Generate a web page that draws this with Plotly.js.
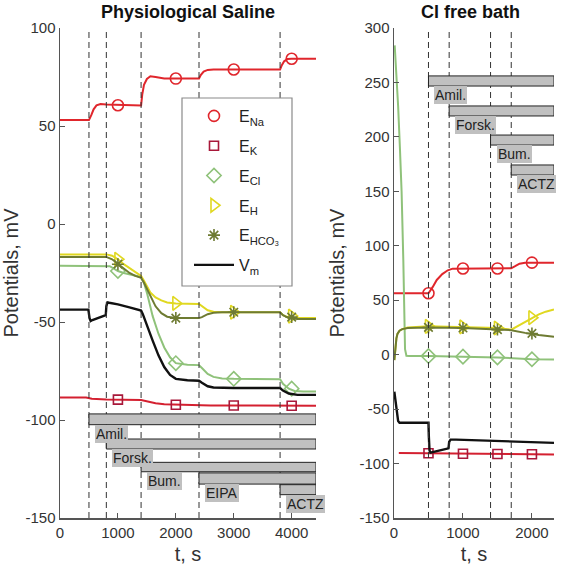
<!DOCTYPE html>
<html>
<head>
<meta charset="utf-8">
<script src="https://cdn.plot.ly/plotly-3.0.1.min.js"></script>
<style>html,body{margin:0;padding:0;background:#fff;}#chart{width:562px;height:565px;}</style>
</head>
<body>
<div id="chart"></div>
<script>
// ---------------- DATA: left panel (Physiological Saline) ----------------
const leftNaT = [0, 500, 540, 580, 630, 700, 800, 1400, 1420, 1450, 1500, 1560, 1650, 1800, 2400, 2430, 2480, 2550, 2650, 3800, 3830, 3870, 3930, 4000, 4420];
const leftNaV = [53, 53, 55.5, 58.5, 60.5, 61.2, 61, 60.5, 66, 71, 74, 75.4, 75, 74.2, 74.2, 76, 77.8, 78.6, 78.8, 78.8, 81, 83, 84.2, 84.3, 84.3];

const leftKT = [0, 450, 550, 700, 800, 1400, 1500, 1650, 1800, 2000, 2400, 2600, 4420];
const leftKV = [-88.5, -88.5, -89.2, -89.5, -89.6, -89.8, -90.5, -91.5, -92.0, -92.2, -92.3, -92.6, -92.7];

const leftClT = [0, 500, 860, 1000, 1100, 1400, 1450, 1500, 1550, 1600, 1700, 1800, 1900, 2000, 2200, 2400, 2450, 2550, 2650, 2800, 3000, 3800, 3850, 3950, 4050, 4200, 4420];
const leftClV = [-21.3, -21.3, -21.5, -24, -25, -27, -30, -35, -41, -47, -56, -63, -68, -71, -71.8, -72, -73.5, -76.5, -78, -78.8, -79, -79.2, -81.5, -84, -85.2, -85.5, -85.5];

const leftHT = [0, 800, 900, 1000, 1100, 1200, 1300, 1400, 1450, 1500, 1560, 1650, 1750, 1850, 2000, 2400, 2450, 2550, 2650, 2800, 3800, 3850, 3950, 4100, 4420];
const leftHV = [-15.5, -15.5, -16.2, -18, -20.5, -22.5, -24.5, -26.5, -29, -32, -35, -37.5, -39, -40, -40.5, -40.8, -42, -44, -44.8, -45, -45, -46.5, -47.8, -48, -48];

const leftHCO3T = [0, 800, 900, 1000, 1100, 1200, 1300, 1400, 1450, 1500, 1560, 1650, 1750, 1850, 2000, 2400, 2450, 2550, 2650, 2800, 3800, 3850, 3950, 4100, 4420];
const leftHCO3V = [-16.8, -16.8, -18, -20.5, -23, -25, -26.5, -27.5, -30, -33, -37, -42, -45.5, -47.3, -48, -48, -47.5, -46, -45.3, -45, -45, -46.5, -48, -48.5, -48.5];

const leftVmT = [0, 490, 510, 530, 560, 700, 790, 800, 820, 850, 1000, 1200, 1400, 1430, 1500, 1600, 1700, 1800, 1900, 2000, 2200, 2400, 2450, 2550, 2650, 2800, 3000, 3800, 3850, 3950, 4100, 4420];
const leftVmV = [-43.7, -43.7, -48, -49.5, -49, -47.5, -46.5, -42, -40, -40.2, -41, -42.5, -44.2, -46, -52, -59.5, -67, -73, -77, -79, -79.7, -80, -81, -82.8, -83.4, -83.6, -83.7, -83.7, -85, -86.5, -87.2, -87.2];

const leftMarkT = [1000, 2000, 3000, 4000];
const leftNaMk = [60.6, 74.2, 78.8, 84.3];
const leftKMk = [-89.6, -92.2, -92.6, -92.7];
const leftClMk = [-24, -71, -79, -84];
const leftHMk = [-18, -40.5, -45, -47];
const leftHCO3Mk = [-20.5, -48, -45, -47.5];

const leftDrugs = ['Amil.', 'Forsk.', 'Bum.', 'EIPA', 'ACTZ'];
const leftDrugStart = [500, 800, 1400, 2400, 3800];

// ---------------- DATA: right panel (Cl free bath) ----------------
const rightNaT = [0, 500, 560, 620, 700, 780, 850, 1000, 1500, 1700, 1750, 1820, 1900, 2000, 2320];
const rightNaV = [56.4, 56.4, 62, 68.6, 74, 77.5, 79, 79.1, 79.2, 79.3, 81, 83.5, 84.4, 84.5, 84.5];

const rightKT = [70, 500, 1000, 1500, 2000, 2320];
const rightKV = [-90.3, -90.6, -91, -91.2, -91.5, -91.6];

const rightClT = [10, 30, 60, 87, 110, 135, 150, 160, 180, 220, 500, 1000, 1500, 2000, 2320];
const rightClV = [284, 265, 228, 188, 150, 87, 30, 5, -1, -1.2, -1.3, -1.8, -2.5, -4.2, -4.5];

const rightHT = [5, 20, 35, 50, 80, 120, 200, 500, 1000, 1500, 1700, 1800, 1900, 2000, 2100, 2200, 2320];
const rightHV = [-5, 8, 15, 19, 22, 23.5, 25, 26, 25.5, 24.5, 23, 26.5, 30.5, 34, 37, 39.5, 41.5];

const rightHCO3T = [5, 20, 35, 50, 80, 120, 200, 500, 1000, 1500, 1700, 1900, 2100, 2320];
const rightHCO3V = [-5, 8, 15, 19, 22, 23.5, 24.5, 25, 24.5, 23, 22.5, 20, 18, 16.5];

const rightVmT = [5, 20, 35, 45, 60, 80, 500, 505, 515, 530, 560, 700, 790, 800, 820, 900, 1400, 1700, 2000, 2320];
const rightVmV = [-34, -42, -52, -57, -61, -62.5, -62.5, -75, -88, -90, -89.5, -87, -86, -80, -78, -78, -79, -79.8, -80.5, -81];

const rightMarkT = [500, 1000, 1500, 2000];
const rightNaMk = [56.4, 79.1, 79.2, 84.5];
const rightKMk = [-90.6, -91, -91.2, -91.5];
const rightClMk = [-1.3, -1.8, -2.5, -4.2];
const rightHMk = [26, 25.5, 24.5, 34];
const rightHCO3Mk = [25, 24.5, 23, 19.5];

const rightDrugs = ['Amil.', 'Forsk.', 'Bum.', 'ACTZ'];
const rightDrugStart = [500, 800, 1400, 1700];

// ---------------- STYLE / LAYOUT CONFIG ----------------
const FONT = "'Liberation Sans', Arial, sans-serif";
const W = 562, H = 565;
const M = {l: 60, r: 8, t: 28, b: 47};
const PW = W - M.l - M.r, PH = H - M.t - M.b;
const px2x = p => (p - M.l) / PW;
const px2y = p => (H - M.b - p) / PH;

const leftXMax = 4420, rightXMax = 2320;
// bar vertical extents (top, bottom) in data units, per drug
const leftBarY = [[-96.9, -102.4], [-109.7, -114.8], [-121.6, -126.4], [-127, -132.7], [-133, -138.1]];
const rightBarY = [[256, 246.7], [228.4, 219.2], [201.7, 192.5], [174.2, 165]];

const series = [
  {name: 'E<sub>Na</sub>', color: '#e0262c', mcolor: '#e0262c', symbol: 'circle-open', size: 11},
  {name: 'E<sub>K</sub>', color: '#d42030', mcolor: '#a8183a', symbol: 'square-open', size: 9},
  {name: 'E<sub>Cl</sub>', color: '#8fc27a', mcolor: '#8fc27a', symbol: 'diamond-open', size: 11},
  {name: 'E<sub>H</sub>', color: '#e0d820', mcolor: '#e0d820', symbol: 'triangle-right-open', size: 12},
  {name: 'E<sub>HCO₃</sub>', color: '#6e7b32', mcolor: '#6e7b32', symbol: 'asterisk-open', size: 10}
];
const leftData = [[leftNaT, leftNaV, leftNaMk], [leftKT, leftKV, leftKMk], [leftClT, leftClV, leftClMk], [leftHT, leftHV, leftHMk], [leftHCO3T, leftHCO3V, leftHCO3Mk]];
const rightData = [[rightNaT, rightNaV, rightNaMk], [rightKT, rightKV, rightKMk], [rightClT, rightClV, rightClMk], [rightHT, rightHV, rightHMk], [rightHCO3T, rightHCO3V, rightHCO3Mk]];

const traces = [];
function addPanel(data, markT, vmT, vmV, xa, ya, legend) {
  series.forEach((s, i) => {
    const [t, v, mk] = data[i];
    traces.push({x: t, y: v, xaxis: xa, yaxis: ya, type: 'scatter', mode: 'lines',
      line: {color: s.color, width: 2}, legendgroup: 'g' + i, showlegend: false, hoverinfo: 'skip'});
    traces.push({x: markT, y: mk, xaxis: xa, yaxis: ya, type: 'scatter', mode: 'markers', name: s.name,
      marker: {symbol: s.symbol, size: s.size, color: s.mcolor, line: {color: s.mcolor, width: 1.6}},
      legendgroup: 'g' + i, showlegend: legend});
  });
  traces.push({x: vmT, y: vmV, xaxis: xa, yaxis: ya, type: 'scatter', mode: 'lines', name: 'V<sub>m</sub>',
    line: {color: '#111111', width: 2.4}, legendgroup: 'g5', showlegend: legend});
}
addPanel(leftData, leftMarkT, leftVmT, leftVmV, 'x', 'y', true);
addPanel(rightData, rightMarkT, rightVmT, rightVmV, 'x2', 'y2', false);

const shapes = [];
const annotations = [];
function addDrugs(names, starts, barY, xref, yref, xmax) {
  starts.forEach(t => {
    shapes.push({type: 'line', xref: xref, yref: yref + ' domain', x0: t, x1: t, y0: 0, y1: 1,
      line: {color: '#333333', width: 1, dash: '6px,4px'}, layer: 'above'});
  });
  names.forEach((n, i) => {
    shapes.push({type: 'rect', xref: xref, yref: yref, x0: starts[i], x1: xmax, y0: barY[i][1], y1: barY[i][0],
      fillcolor: '#c0c0c0', line: {color: '#222222', width: 1}, layer: 'above'});
  });
  names.forEach((n, i) => {
    annotations.push({text: n, xref: xref, yref: yref, x: starts[i], y: barY[i][1], xanchor: 'left', yanchor: 'top',
      xshift: 6, showarrow: false, bgcolor: '#c0c0c0', borderpad: 1, borderwidth: 0,
      font: {family: FONT, size: 14, color: '#222222'}});
  });
}
addDrugs(leftDrugs, leftDrugStart, leftBarY, 'x', 'y', leftXMax);
addDrugs(rightDrugs, rightDrugStart, rightBarY, 'x2', 'y2', rightXMax);

// legend frame
shapes.push({type: 'rect', xref: 'paper', yref: 'paper', x0: px2x(182), x1: px2x(292), y0: px2y(286), y1: px2y(98),
  fillcolor: '#ffffff', line: {color: '#8a8a8a', width: 1.2}, layer: 'above'});

annotations.push({text: '<b>Physiological Saline</b>', xref: 'paper', yref: 'paper', x: px2x(188), y: px2y(12),
  xanchor: 'center', yanchor: 'middle', showarrow: false, font: {family: FONT, size: 18, color: '#111'}});
annotations.push({text: '<b>Cl free bath</b>', xref: 'paper', yref: 'paper', x: px2x(470), y: px2y(12),
  xanchor: 'center', yanchor: 'middle', showarrow: false, font: {family: FONT, size: 18, color: '#111'}});

const leftYTicks = [-150, -100, -50, 0, 50, 100];
const rightYTicks = [-150, -100, -50, 0, 50, 100, 150, 200, 250, 300];
const leftXTicks = [0, 1000, 2000, 3000, 4000];
const rightXTicks = [0, 1000, 2000];

const axBase = {showline: true, linecolor: '#555555', linewidth: 1.5, mirror: false, ticks: 'inside', ticklen: 5,
  tickcolor: '#555555', tickwidth: 1, showgrid: false, zeroline: false,
  tickfont: {family: FONT, size: 15, color: '#333333'}};
const titleFont = {family: FONT, size: 20, color: '#333333'};

const layout = {
  width: W, height: H, margin: M, paper_bgcolor: '#ffffff', plot_bgcolor: '#ffffff',
  font: {family: FONT},
  showlegend: true,
  legend: {x: px2x(189), y: px2y(99), xanchor: 'left', yanchor: 'top', bgcolor: 'rgba(0,0,0,0)',
    borderwidth: 0, font: {family: FONT, size: 16, color: '#222222'}, tracegroupgap: 6, itemwidth: 40},
  xaxis: Object.assign({}, axBase, {domain: [0, px2x(316)], range: [0, leftXMax], anchor: 'y',
    tickvals: leftXTicks, ticktext: leftXTicks.map(String), title: {text: 't, s', font: titleFont}}),
  yaxis: Object.assign({}, axBase, {domain: [0, 1], range: [-150, 100], anchor: 'x',
    tickvals: leftYTicks, ticktext: leftYTicks.map(String), title: {text: 'Potentials, mV', font: titleFont}}),
  xaxis2: Object.assign({}, axBase, {domain: [px2x(394), 1], range: [0, rightXMax], anchor: 'y2',
    tickvals: rightXTicks, ticktext: rightXTicks.map(String), title: {text: 't, s', font: titleFont}}),
  yaxis2: Object.assign({}, axBase, {domain: [0, 1], range: [-150, 300], anchor: 'x2',
    tickvals: rightYTicks, ticktext: rightYTicks.map(String), title: {text: 'Potentials, mV', font: titleFont}}),
  shapes: shapes,
  annotations: annotations
};

Plotly.newPlot('chart', traces, layout, {staticPlot: true, displayModeBar: false});
</script>
</body>
</html>
